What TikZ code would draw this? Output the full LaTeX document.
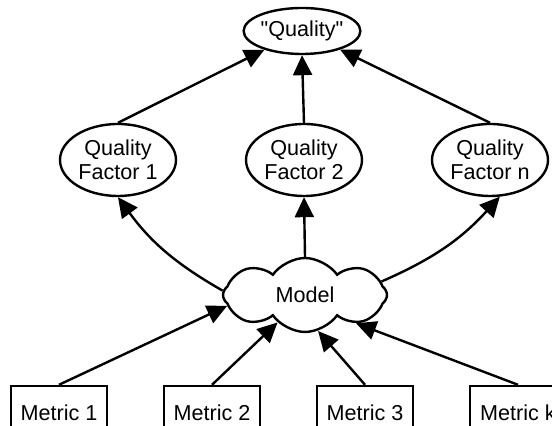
\documentclass[tikz,border=0pt]{standalone}
\usepackage{fontspec}
\setmainfont{Liberation Sans}
\usetikzlibrary{positioning,shapes.geometric,shapes.symbols,arrows.meta}

\begin{document}
\begin{tikzpicture}[x=0.5pt, y=0.5pt, line width=1.2pt,
	>={Triangle[length=10pt,width=9.5pt]},
	font=\fontsize{10.8}{12}\selectfont]
\useasboundingbox (0,0) rectangle (552,426);
\node[ellipse, draw, minimum width=58pt, minimum height=23pt, inner sep=0] at(302,395) (q) {\textquotedbl Quality\textquotedbl};
\foreach \x/\n in {118/1,304/2,490/n} {
	\node[ellipse, draw, minimum width=58pt, minimum height=36pt, inner sep=0, align=center] at(\x,266) (f\n) {Quality\\Factor \n};
};
\node[cloud, draw, cloud puffs=8, cloud puff arc=110, aspect=2.3, minimum width=82pt, minimum height=37pt, inner sep=0] at(305,131) (model) {Model};
\foreach \x/\n in {59/1,212/2,365/3,518/k} {
	\node[rectangle, draw, minimum width=48pt, minimum height=27pt, inner sep=0] at(\x,13) (m\n) {Metric \n};
};
\path[->]
	(f1.north) edge (q)
	(f2.north) edge (q.south)
	(fn.north) edge (q)
	(model.177) edge[bend left=12] (f1.south)
	(model.north) edge (f2.south)
	(model.10) edge[bend right=12] (fn.285)
	(m1.north) edge (model.188)
	(m2.north) edge (model.225)
	(m3.north) edge (model.290)
	(mk.north) edge (model.331);
\end{tikzpicture}
\end{document}
